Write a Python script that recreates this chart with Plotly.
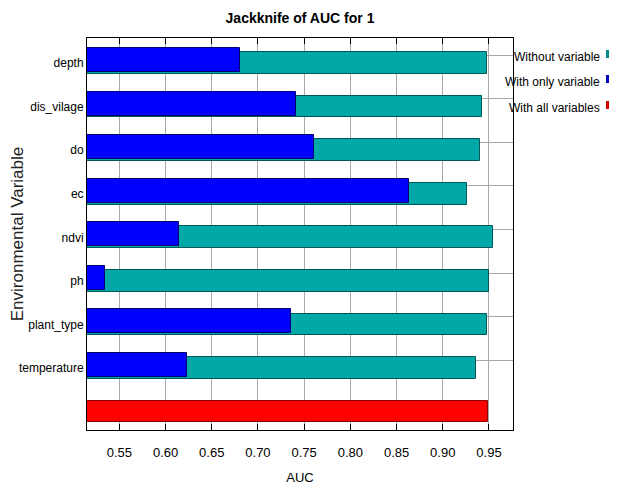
import plotly.graph_objects as go

variables = ["depth", "dis_vilage", "do", "ec", "ndvi", "ph", "plant_type", "temperature"]
without_variable = [0.948, 0.942, 0.940, 0.9265, 0.954, 0.950, 0.948, 0.936]
with_only_variable = [0.681, 0.741, 0.761, 0.863, 0.615, 0.535, 0.736, 0.623]
with_all_variables = 0.9485
x_ticks = [0.55, 0.60, 0.65, 0.70, 0.75, 0.80, 0.85, 0.90, 0.95]
legend_names = ["Without variable", "With only variable", "With all variables"]

TEAL = "#00A8A8"
BLUE = "#0000FF"
RED = "#FF0000"
SANS = "Liberation Sans, Arial, sans-serif"

rows = list(range(len(variables)))
all_row = len(variables)

# page body adds an 8px margin, so the figure is drawn 8px smaller
W, H = 609, 480
L, R, T, B = 79, 104, 30, 58
plot_w, plot_h = W - L - R, H - T - B

fig = go.Figure()
fig.add_trace(go.Bar(
    y=rows, x=without_variable, orientation="h", name=legend_names[0],
    width=0.5, offset=-0.25,
    marker=dict(color=TEAL, line=dict(color="#005858", width=1)),
    showlegend=False,
))
fig.add_trace(go.Bar(
    y=rows, x=with_only_variable, orientation="h", name=legend_names[1],
    width=0.55, offset=-0.345,
    marker=dict(color=BLUE, line=dict(color="#000070", width=1)),
    showlegend=False,
))
fig.add_trace(go.Bar(
    y=[all_row], x=[with_all_variables], orientation="h", name=legend_names[2],
    width=0.48, offset=-0.24,
    marker=dict(color=RED, line=dict(color="#8B0000", width=1)),
    showlegend=False,
))

fig.update_layout(
    width=W, height=H,
    margin=dict(l=L, r=R, t=T, b=B, autoexpand=False),
    paper_bgcolor="white", plot_bgcolor="white",
    barmode="overlay",
    bargap=0,
    title=dict(text="<b>Jackknife of AUC for 1</b>", x=0.5, xref="paper", xanchor="center",
               y=1 - 10 / H, yref="container", yanchor="middle",
               font=dict(family=SANS, size=14, color="black")),
    font=dict(family=SANS, size=13, color="black"),
)

fig.update_xaxes(
    range=[0.515, 0.976],
    tickmode="array", tickvals=x_ticks, ticktext=[f"{v:.2f}" for v in x_ticks],
    ticks="inside", ticklen=6, tickcolor="black",
    ticklabelstandoff=10,
    showline=True, linecolor="black", linewidth=1, mirror="ticks",
    showgrid=True, gridcolor="#A8A8A8", gridwidth=1,
    zeroline=False,
    tickfont=dict(family=SANS, size=13, color="black"),
    title=dict(text="AUC", standoff=14, font=dict(family=SANS, size=13, color="black")),
)

fig.update_yaxes(
    range=[all_row + 0.42, -0.573],
    tickmode="array", tickvals=rows, ticktext=variables,
    ticks="", showgrid=False,
    showline=True, linecolor="black", linewidth=1, mirror=True,
    zeroline=False,
    layer="below traces",
    minor=dict(tickmode="array", tickvals=[r - 0.18 for r in rows],
               showgrid=True, gridcolor="#A8A8A8", gridwidth=1,
               ticks="inside", ticklen=6, tickcolor="black"),
    tickfont=dict(family=SANS, size=12, color="black"),
    title=dict(text="Environmental Variable", standoff=6,
               font=dict(family=SANS, size=17, color="#222222")),
)

# legend drawn on the right: right-aligned text followed by a small colour square
legend_colors = ["#008C8C", "#0000C0", "#D00000"]
legend_y_px = [49, 74, 100]
for name, col, ypx in zip(legend_names, legend_colors, legend_y_px):
    yp = 1 - (ypx - T) / plot_h
    fig.add_annotation(
        text=name, xref="paper", yref="paper",
        x=(594 - L) / plot_w, y=yp, xanchor="right", yanchor="middle",
        showarrow=False, font=dict(family=SANS, size=12, color="black"),
    )
    fig.add_shape(
        type="rect", xref="x domain", yref="paper",
        x0=(598 - L) / plot_w, x1=(604 - L) / plot_w,
        y0=yp - 1 / plot_h, y1=yp + 7 / plot_h,
        fillcolor=col, line=dict(width=0), layer="above",
    )

fig.write_html("out.html")
